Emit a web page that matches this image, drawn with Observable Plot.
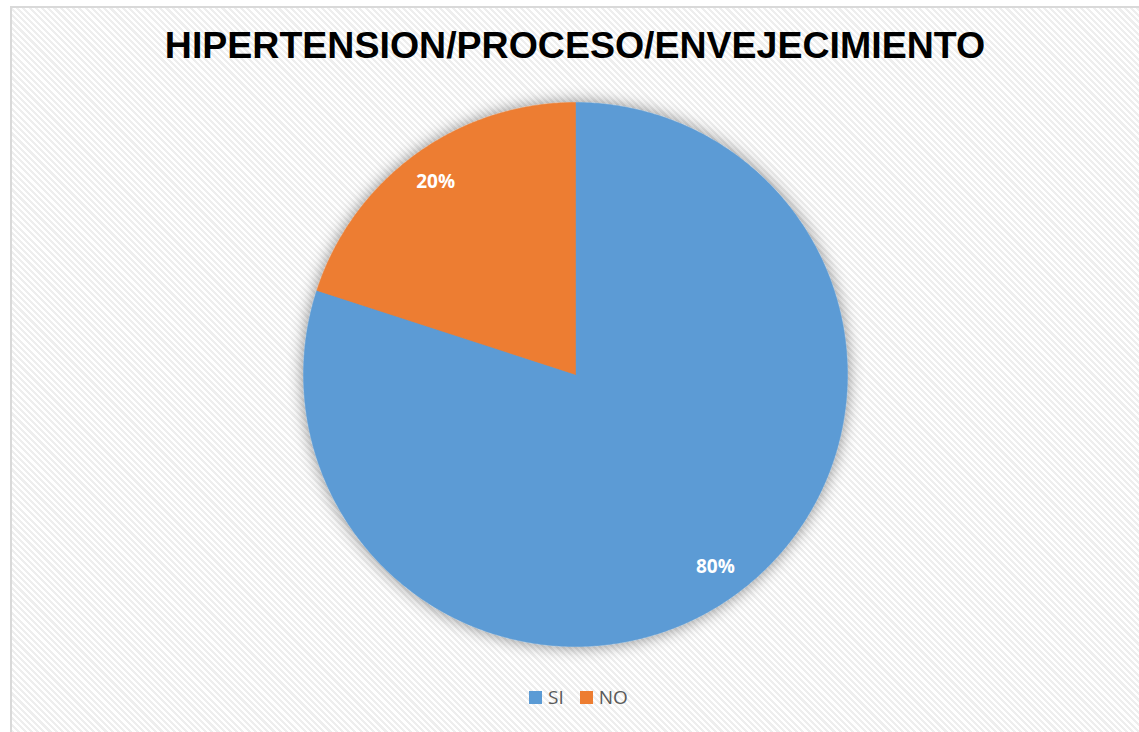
<!DOCTYPE html>
<html>
<head>
<meta charset="utf-8">
<script src="https://cdn.jsdelivr.net/npm/d3@7"></script>
<script src="https://cdn.jsdelivr.net/npm/@observablehq/plot@0.6"></script>
<style>
  html, body { margin: 0; padding: 0; background: #fff; }
  #wrap { position: relative; width: 1139px; height: 732px; overflow: hidden; background: #fff; }
  #frame { position: absolute; left: 10px; top: 6px; width: 1140px; height: 740px;
    border-left: 2px solid #d9d9d9; border-top: 2px solid #d9d9d9;
    background: repeating-linear-gradient(45deg, #ffffff 0px, #ffffff 2.2px, #eeeeee 2.2px, #eeeeee 4.4px); }
  #title { position: absolute; left: 0; width: 1150px; top: 24px; text-align: center;
    font-family: "Liberation Sans", Arial, sans-serif; font-weight: bold; font-size: 37.5px; color: #000; }
  #chart { position: absolute; left: 0; top: 0; }
  #legend { position: absolute; left: 0; width: 1157px; top: 684px; display: flex; justify-content: center; }
  #legend .item { display: flex; align-items: center; margin: 0 8px; font-family: "Open Sans", sans-serif; font-size: 19px; color: #595959; }
  #legend .sw { width: 13px; height: 13px; margin-right: 6px; }
</style>
</head>
<body>
<div id="wrap">
  <div id="frame"></div>
  <div id="title"></div>
  <div id="chart"></div>
  <div id="legend"></div>
</div>
<script>
const titleText = "HIPERTENSION/PROCESO/ENVEJECIMIENTO";
const categories = ["SI", "NO"];
const values = [80, 20];
const labels = ["80%", "20%"];
const colors = ["#5b9bd5", "#ed7d31"];

document.getElementById("title").textContent = titleText;

const pie = d3.pie().sort(null).value(d => d.value)(categories.map((c, i) => ({category: c, value: values[i], label: labels[i]})));

// polygon points for each slice (unit circle coords, angle clockwise from 12 o'clock)
const slicePts = [];
for (const s of pie) {
  const n = Math.max(2, Math.ceil((s.endAngle - s.startAngle) / (Math.PI / 360)));
  slicePts.push({category: s.data.category, x: 0, y: 0});
  for (let k = 0; k <= n; k++) {
    const a = s.startAngle + (s.endAngle - s.startAngle) * k / n;
    slicePts.push({category: s.data.category, x: Math.sin(a), y: Math.cos(a)});
  }
  slicePts.push({category: s.data.category, x: 0, y: 0});
}
const labelPts = pie.map(s => {
  const a = (s.startAngle + s.endAngle) / 2;
  return {category: s.data.category, label: s.data.label, x: 0.875 * Math.sin(a), y: 0.875 * Math.cos(a)};
});

const R = 272, cx = 575, cy = 374;
const plot = Plot.plot({
  width: 1139,
  height: 732,
  margin: 0,
  style: {background: "transparent", overflow: "visible"},
  x: {domain: [-1, 1], range: [cx - R, cx + R], axis: null},
  y: {domain: [-1, 1], range: [cy + R, cy - R], axis: null},
  color: {domain: categories, range: colors},
  marks: [
    Plot.line(slicePts, {x: "x", y: "y", z: "category", fill: "category", stroke: "category", strokeWidth: 0.5, curve: "linear"}),
    Plot.text(labelPts, {x: "x", y: "y", text: "label", fill: "white", fontSize: 19, fontWeight: "bold", fontFamily: "Open Sans, sans-serif"})
  ]
});

// soft shadow under pie slices
const svg = d3.select(plot);
const defs = svg.insert("defs", ":first-child");
const f = defs.append("filter").attr("id", "pieShadow").attr("x", "-20%").attr("y", "-20%").attr("width", "140%").attr("height", "140%");
f.append("feDropShadow").attr("dx", 0).attr("dy", 0).attr("stdDeviation", 8).attr("flood-color", "#000").attr("flood-opacity", 0.45);
svg.select('g[aria-label="line"]').attr("filter", "url(#pieShadow)");

document.getElementById("chart").appendChild(plot);

const legend = d3.select("#legend");
categories.forEach((c, i) => {
  const it = legend.append("div").attr("class", "item");
  it.append("div").attr("class", "sw").style("background", colors[i]);
  it.append("span").text(c);
});
</script>
</body>
</html>
